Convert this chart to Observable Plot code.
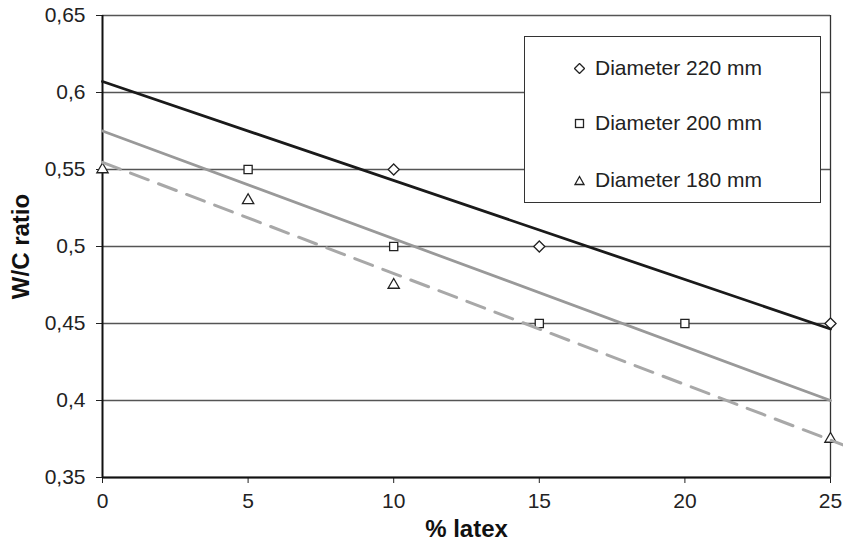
<!DOCTYPE html>
<html>
<head>
<meta charset="utf-8">
<script src="https://cdn.jsdelivr.net/npm/d3@7"></script>
<script src="https://cdn.jsdelivr.net/npm/@observablehq/plot@0.6"></script>
<style>
  html, body { margin: 0; padding: 0; background: #fff; }
  #wrap { position: relative; width: 843px; height: 542px; font-family: "Liberation Sans", Arial, sans-serif; }
  #legend { position: absolute; left: 524px; top: 36px; width: 297px; height: 167px; background: #fff; border: 1px solid #333; box-sizing: border-box; }
  .item { position: absolute; left: 49px; height: 24px; display: flex; align-items: center; font-size: 21px; color: #222; }
  .item svg { margin-right: 10px; }
</style>
</head>
<body>
<div id="wrap"></div>
<script>
// Data
const seriesNames = ["Diameter 220 mm", "Diameter 200 mm", "Diameter 180 mm"];
const x220 = [10, 15, 25];
const y220 = [0.55, 0.50, 0.45];
const x200 = [5, 10, 15, 20];
const y200 = [0.55, 0.50, 0.45, 0.45];
const x180 = [0, 5, 10, 25];
const y180 = [0.55, 0.53, 0.475, 0.375];
const xTicks = [0, 5, 10, 15, 20, 25];
const yTicks = [0.35, 0.40, 0.45, 0.50, 0.55, 0.60, 0.65];

const pts = (xs, ys, s) => xs.map((x, i) => ({x, y: ys[i], s}));
const d220 = pts(x220, y220, seriesNames[0]);
const d200 = pts(x200, y200, seriesNames[1]);
const d180 = pts(x180, y180, seriesNames[2]);

function fit(xs, ys) {
  const mx = d3.mean(xs), my = d3.mean(ys);
  const sxy = d3.sum(xs, (x, i) => (x - mx) * (ys[i] - my));
  const sxx = d3.sum(xs, x => (x - mx) ** 2);
  const b = sxy / sxx, a = my - b * mx;
  return x => a + b * x;
}
function trend(xs, ys, x0, x1) {
  const f = fit(xs, ys);
  return [{x: x0, y: f(x0)}, {x: x1, y: f(x1)}];
}
const t220 = trend(x220, y220, 0, 25);
const t200 = trend(x200, y200, 0, 25);
const t180 = trend(x180, y180, 0, 25.5);

const fmt = d => d3.format(".2~f")(d).replace(".", ",");
const font = "Liberation Sans, Arial, sans-serif";

const chart = Plot.plot({
  width: 843,
  height: 542,
  marginLeft: 102,
  marginRight: 13,
  marginTop: 15,
  marginBottom: 65,
  style: {fontFamily: font, fontSize: "21px", color: "#222", background: "#fff"},
  x: {domain: [0, 25]},
  y: {domain: [0.35, 0.65]},
  marks: [
    Plot.gridY(yTicks, {stroke: "#555", strokeOpacity: 1, strokeWidth: 1.3}),
    Plot.ruleX([25], {stroke: "#333", strokeWidth: 1.3}),
    Plot.axisY({ticks: yTicks, tickSize: 6, tickPadding: 11, tickFormat: fmt, label: null, stroke: "#222", fontSize: 21}),
    Plot.axisX({ticks: xTicks, tickSize: 6, tickPadding: 10, tickFormat: d => String(d), label: null, stroke: "#222", fontSize: 21}),
    Plot.ruleX([0], {stroke: "#111", strokeWidth: 2}),
    Plot.ruleY([0.35], {stroke: "#111", strokeWidth: 2}),
    Plot.dot(d220, {x: "x", y: "y", symbol: "diamond2", r: 5, stroke: "#222", strokeWidth: 1.3, fill: "#fff"}),
    Plot.dot(d200, {x: "x", y: "y", symbol: "square", r: 4.6, stroke: "#222", strokeWidth: 1.3, fill: "#fff"}),
    Plot.dot(d180, {x: "x", y: "y", symbol: "triangle", r: 4.2, stroke: "#222", strokeWidth: 1.3, fill: "#fff"}),
    Plot.line(t180, {x: "x", y: "y", stroke: "#a8a8a8", strokeWidth: 3, strokeDasharray: "19,11", clip: false}),
    Plot.line(t200, {x: "x", y: "y", stroke: "#999", strokeWidth: 2.8}),
    Plot.line(t220, {x: "x", y: "y", stroke: "#1a1a1a", strokeWidth: 2.8}),
    Plot.text(["W/C ratio"], {frameAnchor: "left", dx: -81, rotate: -90, textAnchor: "middle", lineAnchor: "middle", fontWeight: "bold", fontSize: 24, fill: "#111"}),
    Plot.text(["% latex"], {frameAnchor: "bottom", dy: 52, textAnchor: "middle", lineAnchor: "middle", fontWeight: "bold", fontSize: 24, fill: "#111"})
  ]
});
const wrap = document.getElementById("wrap");
wrap.appendChild(chart);

// Legend
const legend = document.createElement("div");
legend.id = "legend";
const shapes = [
  '<polygon points="5,0 10,5 5,10 0,5" fill="#fff" stroke="#222" stroke-width="1.3"/>',
  '<rect x="1" y="1" width="8" height="8" fill="#fff" stroke="#222" stroke-width="1.3"/>',
  '<polygon points="5,1 9.5,9 0.5,9" fill="#fff" stroke="#222" stroke-width="1.3"/>'
];
const tops = [19, 74, 131];
seriesNames.forEach((name, i) => {
  const it = document.createElement("div");
  it.className = "item";
  it.style.top = tops[i] + "px";
  it.innerHTML = `<svg width="11" height="11" viewBox="-0.5 -0.5 11 11">${shapes[i]}</svg><span>${name}</span>`;
  legend.appendChild(it);
});
wrap.appendChild(legend);
</script>
</body>
</html>
